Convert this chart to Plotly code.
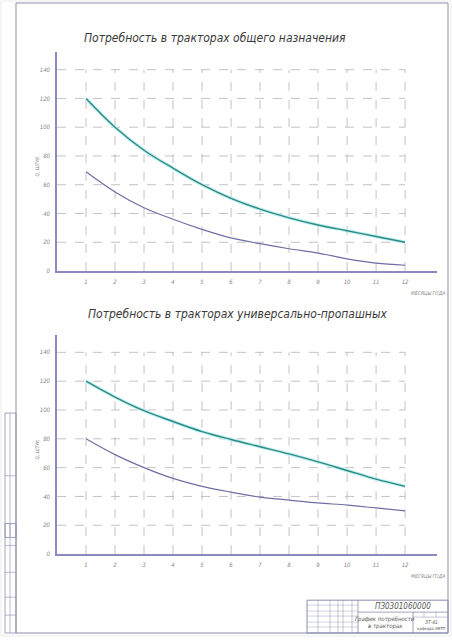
import plotly.graph_objects as go

# data
months = list(range(1, 13))
y_ticks = [0, 20, 40, 60, 80, 100, 120, 140]

general_teal = [120, 100, 84, 71.5, 60, 50.5, 43, 37, 32, 28, 24, 20]
general_purple = [69, 55, 44, 36, 29, 23, 19, 15.5, 12.5, 8.5, 5.5, 4]
row_crop_teal = [120, 109, 99.5, 92, 85, 79.5, 74.5, 69.5, 64, 58, 52, 47]
row_crop_purple = [80, 69, 60, 52.5, 47, 43, 39.5, 37.5, 35.5, 34, 32, 30]

titles = ["Потребность в тракторах общего назначения",
          "Потребность в тракторах универсально-пропашных"]
x_title = "МЕСЯЦЫ ГОДА"
y_title = "Q, ШТУК"

W, H = 452, 640
FONT = "Liberation Sans Narrow, DejaVu Sans Condensed, DejaVu Sans, sans-serif"
TEAL = "#2b8a86"
HALO = "#c4f0f0"
PURPLE = "#6e6ea4"
AXIS = "#8a8abf"
GRID = "#b4b4b4"
FRAME = "#8c8cae"


def px(x):
    return x / W


def py(y):
    return 1 - y / H


fig = go.Figure()

# (teal, purple, x axis, y axis, pixel row of 0, of 140, of axis top, title row, title centre)
panels = [
    (general_teal, general_purple, "x", "y", 272.3, 70, 52, 38, 215),
    (row_crop_teal, row_crop_purple, "x2", "y2", 556.7, 354, 336.7, 315, 237),
]

shapes = []
annotations = []


def note(x, y, text, font, **kw):
    d = dict(x=px(x), y=py(y), xref="paper", yref="paper", text=text, showarrow=False,
             xanchor="center", yanchor="middle", font=font)
    d.update(kw)
    annotations.append(d)


for i, (teal, purple, xa, ya, y0px, y140px, ytop, title_y, title_x) in enumerate(panels):
    fig.add_trace(go.Scatter(x=months, y=teal, xaxis=xa, yaxis=ya, mode="lines",
                             line=dict(color=HALO, width=3.5, shape="spline"),
                             hoverinfo="skip", showlegend=False))
    fig.add_trace(go.Scatter(x=months, y=teal, xaxis=xa, yaxis=ya, mode="lines",
                             line=dict(color=TEAL, width=1.4, shape="spline"),
                             showlegend=False))
    fig.add_trace(go.Scatter(x=months, y=purple, xaxis=xa, yaxis=ya, mode="lines",
                             line=dict(color=PURPLE, width=1.2, shape="spline"),
                             showlegend=False))

    # dashed grid bounded by the last month / top tick
    for t in y_ticks[1:]:
        shapes.append(dict(type="line", xref=xa, yref=ya, x0=0, x1=months[-1], y0=t, y1=t,
                           line=dict(color=GRID, width=0.8, dash="dash"), layer="below"))
    for m in months:
        shapes.append(dict(type="line", xref=xa, yref=ya, x0=m, x1=m, y0=0, y1=y_ticks[-1],
                           line=dict(color=GRID, width=0.8, dash="dash"), layer="below"))

    axis_common = dict(showgrid=False, zeroline=False, showline=True,
                       linecolor=AXIS, linewidth=1.5, ticks="outside", ticklen=4,
                       tickcolor="rgba(0,0,0,0)",
                       tickfont=dict(family=FONT, size=6, color="#888888", style="italic"))
    scale = (y0px - y140px) / y_ticks[-1]
    fig.layout["xaxis" if i == 0 else "xaxis2"] = dict(
        axis_common, domain=[px(57), px(437)], range=[0, 13.1],
        tickvals=months, anchor=ya)
    fig.layout["yaxis" if i == 0 else "yaxis2"] = dict(
        axis_common, domain=[py(y0px), py(ytop)], range=[0, (y0px - ytop) / scale],
        tickvals=y_ticks, anchor=xa)

    note(title_x, title_y, titles[i],
         dict(family=FONT, size=12, color="#3a3a3a", style="italic"))
    note(428, y0px + 22, x_title, dict(family=FONT, size=5, color="#888888", style="italic"))
    note(37, y0px - 105, y_title, dict(family=FONT, size=5, color="#888888", style="italic"),
         textangle=-90)


def box(x0, y0, x1, y1, w=0.8):
    shapes.append(dict(type="rect", xref="paper", yref="paper",
                       x0=px(x0), x1=px(x1), y0=py(y0), y1=py(y1),
                       line=dict(color=FRAME, width=w)))


def hline(x0, x1, y, w=0.6):
    shapes.append(dict(type="line", xref="paper", yref="paper",
                       x0=px(x0), x1=px(x1), y0=py(y), y1=py(y),
                       line=dict(color=FRAME, width=w)))


def vline(x, y0, y1, w=0.6):
    shapes.append(dict(type="line", xref="paper", yref="paper",
                       x0=px(x), x1=px(x), y0=py(y0), y1=py(y1),
                       line=dict(color=FRAME, width=w)))


# sheet frame
box(16, 3, 448, 636, 1)
shapes.append(dict(type="rect", xref="paper", yref="paper", x0=px(1), x1=px(451),
                   y0=py(1), y1=py(639), line=dict(color="#dddddd", width=0.6)))

# left side stamps
box(5, 415, 16, 540)
vline(10, 415, 540)
hline(5, 16, 478)
box(5, 526, 16, 636)
vline(10, 526, 636)
for yy in [548, 575, 600, 618]:
    hline(5, 16, yy)

# title block
box(307, 603, 448, 636, 1)
for xx in [318, 330, 338, 343, 352]:
    vline(xx, 603, 636, 0.5)
vline(358, 603, 636, 0.8)
for yy in [608, 614, 619, 625, 630]:
    hline(307, 358, yy, 0.4)
hline(358, 448, 615, 0.8)
vline(413, 615, 636, 0.8)
hline(413, 448, 620, 0.5)
for xx in [424, 436]:
    vline(xx, 615, 620, 0.5)

small = dict(family=FONT, color="#555555", style="italic")
note(403, 609, "ПЗ0301060000", dict(small, size=8))
note(385, 622, "График потребности", dict(small, size=6))
note(385, 629, "в тракторах", dict(small, size=6))
note(431, 625, "ЗТ-41", dict(small, size=5))
note(431, 631, "кафедра ЭМТП", dict(small, size=4))

fig.update_layout(width=W, height=H, margin=dict(l=0, r=0, t=0, b=0),
                  paper_bgcolor="white", plot_bgcolor="white",
                  shapes=shapes, annotations=annotations, showlegend=False)

fig.write_html("out.html", config={"displayModeBar": False},
               post_script="document.body.style.margin='0';document.body.style.overflow='hidden';")
